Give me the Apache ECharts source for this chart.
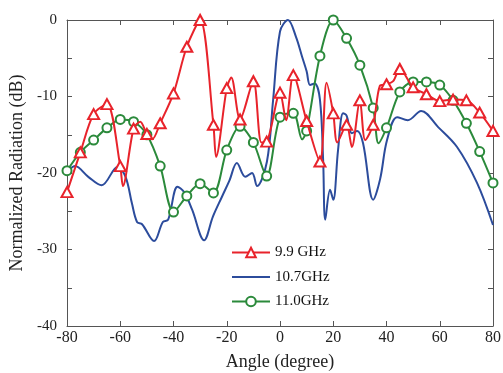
<!DOCTYPE html>
<html>
<head>
<meta charset="utf-8">
<script src="https://cdn.jsdelivr.net/npm/echarts@6/dist/echarts.min.js"></script>
<style>
html,body{margin:0;padding:0;background:#fff}
#main{width:503px;height:373px}
</style>
</head>
<body>
<div id="main"></div>
<script>
// angles (degree) that carry a marker on the red / green curves
var markerAngles=[-80,-75,-70,-65,-60,-55,-50,-45,-40,-35,-30,-25,-20,-15,-10,-5,0,5,10,15,20,25,30,35,40,45,50,55,60,65,70,75,80];

// 9.9 GHz
var redAngles=[-80,-75,-70,-65,-60,-59,-55,-52.5,-50,-48,-45,-40,-35,-30,-25,-24,-20,-18.3,-15,-10,-7,-5,0,2.3,5,10,15,17.5,20,21.5,25,27,30,32,35,37.5,40,42.5,45,50,55,60,65,70,75,80];
var redDb=[-22.5,-17.3,-12.3,-11.0,-19.1,-21.7,-14.2,-13.3,-14.9,-15.6,-13.5,-9.6,-3.5,0,-13.7,-17.9,-8.9,-7.5,-13.0,-8.0,-16.0,-15.9,-9.5,-13.1,-7.2,-13.2,-18.5,-8.2,-12.2,-16.0,-13.7,-16.6,-10.5,-15.7,-13.7,-8.6,-8.4,-8.0,-6.4,-8.8,-9.7,-10.6,-10.4,-10.5,-12.1,-14.5];

// 10.7 GHz
var blueAngles=[-80,-77,-72,-67,-61,-58,-55.6,-53.7,-51.8,-47.3,-44,-42,-38.5,-36,-33,-28.5,-25.2,-21.8,-19,-16.2,-13,-10.5,-8.6,-4.9,-2.6,0,3,6,8.3,10,11.3,13,15,16.2,17,18.8,20,21.8,23.7,25,27,29,31.2,35,37.6,40.2,44,48,53,59.4,66.5,74,80];
var blueDb=[-20.0,-19.1,-20.5,-21.6,-19.2,-20.5,-24.0,-26.4,-26.7,-28.9,-26.4,-26.1,-21.8,-22.5,-24.8,-28.8,-25.7,-23.1,-21.0,-18.7,-20.5,-20.0,-21.7,-18.5,-10.5,-1.5,0,-2.2,-4.8,-6.7,-8.5,-8.3,-10.4,-18.3,-26.1,-22.2,-23.5,-17.0,-12.2,-12.5,-14.8,-14.5,-16.1,-23.5,-20.8,-15.7,-12.7,-13.1,-11.9,-14.0,-16.6,-21.3,-26.8];

// 11.0 GHz
var greenAngles=[-80,-75,-70,-65,-60,-55,-50,-45,-40,-35,-30,-25,-20,-15,-10,-5,0,5,8.3,10,15,20,25,30,35,37,40,45,50,55,60,65,70,75,80];
var greenDb=[-19.7,-17.3,-15.7,-14.1,-13.0,-13.3,-15.0,-19.1,-25.1,-23.0,-21.4,-22.6,-17.0,-13.9,-16.0,-20.4,-12.7,-12.2,-15.6,-14.5,-4.7,0,-2.4,-5.9,-11.5,-16.1,-14.1,-9.4,-8.1,-8.1,-8.5,-10.5,-13.5,-17.2,-21.3];

var seriesNames=['9.9 GHz','10.7GHz','11.0GHz'];
var xTicks={min:-80,max:80,step:20};
var yTicks={min:-40,max:0,step:5};

var font='Liberation Serif';

function build(angles,db,marked){
  return angles.map(function(a,i){
    var item={value:[a,db[i]]};
    if(!marked||markerAngles.indexOf(a)<0) item.symbol='none';
    return item;
  });
}

var myChart=echarts.init(document.getElementById('main'));

var axisLine={show:true,onZero:false,lineStyle:{color:'#555',width:1}};
var tick={show:true,inside:true,length:5,lineStyle:{color:'#555'}};

var option={
  backgroundColor:'#fff',
  animation:false,
  grid:{left:67,right:10,top:20,bottom:47,outerBoundsMode:'none',containLabel:false},
  legend:{
    orient:'vertical',
    left:226,top:240,
    itemWidth:38,itemHeight:12,itemGap:9.5,
    data:seriesNames,
    textStyle:{fontFamily:font,fontSize:15,color:'#111'}
  },
  xAxis:[{
    type:'value',min:xTicks.min,max:xTicks.max,interval:xTicks.step,
    axisLine:axisLine,axisTick:tick,splitLine:{show:false},
    axisLabel:{fontFamily:font,fontSize:16,color:'#222',margin:4},
    name:'Angle (degree)',nameLocation:'middle',nameGap:27,
    nameTextStyle:{fontFamily:font,fontSize:18,color:'#222'}
  },{
    type:'value',position:'top',min:xTicks.min,max:xTicks.max,interval:xTicks.step,
    axisLine:axisLine,axisTick:tick,axisLabel:{show:false},splitLine:{show:false}
  }],
  yAxis:[{
    type:'value',min:yTicks.min,max:yTicks.max,interval:yTicks.step,
    axisLine:axisLine,axisTick:tick,splitLine:{show:false},
    axisLabel:{fontFamily:font,fontSize:15,color:'#222',margin:10,
      formatter:function(v){return v%10===0?String(v):'';}},
    name:'Normalized Radiation (dB)',nameLocation:'middle',nameGap:30,
    nameTextStyle:{fontFamily:font,fontSize:18,color:'#222'}
  },{
    type:'value',position:'right',min:yTicks.min,max:yTicks.max,interval:yTicks.step,
    axisLine:axisLine,axisTick:tick,axisLabel:{show:false},splitLine:{show:false}
  }],
  series:[{
    name:seriesNames[0],type:'line',smooth:0.3,
    symbol:'emptyTriangle',symbolSize:[11,10],
    itemStyle:{color:'#e8232b',borderWidth:1.5},
    lineStyle:{color:'#e8232b',width:2},
    data:build(redAngles,redDb,true),z:4
  },{
    name:seriesNames[1],type:'line',smooth:0.35,
    symbol:'none',symbolSize:0,
    itemStyle:{color:'#2c4c9c',opacity:0},
    lineStyle:{color:'#2c4c9c',width:2},
    data:build(blueAngles,blueDb,false),z:2
  },{
    name:seriesNames[2],type:'line',smooth:0.3,
    symbol:'emptyCircle',symbolSize:9,
    itemStyle:{color:'#2b8a3b',borderWidth:1.5},
    lineStyle:{color:'#2b8a3b',width:2},
    data:build(greenAngles,greenDb,true),z:3
  }]
};

myChart.setOption(option);
</script>
</body>
</html>
